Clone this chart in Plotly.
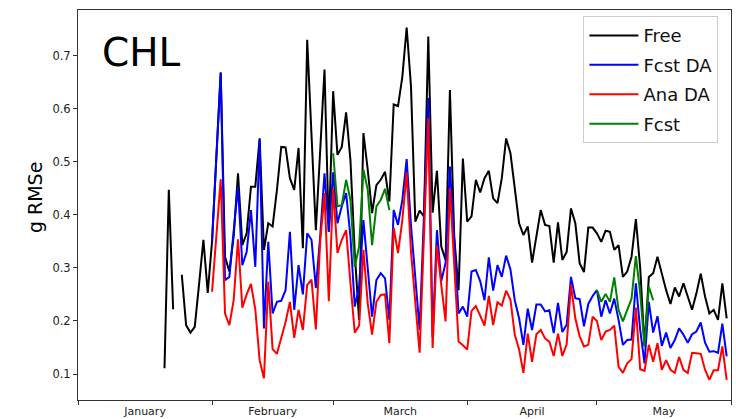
import pandas as pd
import plotly.graph_objects as go

# ---- data (daily values) ----
free_start = "2017-01-21"
free_vals = [
    0.111, 0.447, 0.222, None, 0.287, 0.192, 0.178, 0.189, 0.27, 0.353, 0.253,
    0.35, 0.51, 0.668, 0.321, 0.293, 0.36, 0.478, 0.343, 0.365, 0.453,
    0.453, 0.544, 0.334, 0.384, 0.378, 0.447, 0.528, 0.527, 0.469, 0.447,
    0.526, 0.337, 0.730, 0.55, 0.371, 0.52, 0.674, 0.368, 0.633, 0.513,
    0.528, 0.593, 0.503, 0.328, 0.202, 0.554, 0.485, 0.403, 0.456, 0.466,
    0.481, 0.425, 0.608, 0.605, 0.660, 0.753, 0.642, 0.387, 0.408, 0.397,
    0.736, 0.404, 0.483, 0.340, 0.315, 0.635, 0.359, 0.258, 0.506, 0.387,
    0.397, 0.466, 0.442, 0.469, 0.483, 0.431, 0.422, 0.469, 0.544, 0.516,
    0.444, 0.384, 0.362, 0.378, 0.310, 0.359, 0.409, 0.381, 0.379, 0.310,
    0.386, 0.315, 0.330, 0.412, 0.384, 0.309, 0.292, 0.376, 0.376, 0.365,
    0.349, 0.370, 0.368, 0.334, 0.343, 0.283, 0.293, 0.321, 0.392, 0.30,
    0.152, 0.283, 0.290, 0.321, 0.287, 0.258, 0.232, 0.263, 0.246, 0.271,
    0.246, 0.221, 0.252, 0.289, 0.246, 0.214, 0.221, 0.202, 0.271, 0.205,
]

da_start = "2017-02-01"
fcst_da_vals = [
    0.35, 0.51, 0.668, 0.277, 0.283, 0.37, 0.453, 0.305, 0.330, 0.409,
    0.302, 0.541, 0.186, 0.349, 0.214, 0.236, 0.238, 0.258, 0.368, 0.221,
    0.305, 0.25, 0.365, 0.353, 0.262, 0.359, 0.478, 0.368, 0.48, 0.384,
    0.416, 0.441, 0.359, 0.227, 0.265, 0.390, 0.296, 0.208, 0.277, 0.290,
    0.280, 0.202, 0.409, 0.381, 0.428, 0.505, 0.38, 0.28, 0.183, 0.40,
    0.620, 0.17, 0.371, 0.275, 0.309, 0.491, 0.35, 0.214, 0.227, 0.208,
    0.293, 0.296, 0.275, 0.239, 0.320, 0.257, 0.305, 0.283, 0.323, 0.297,
    0.239, 0.205, 0.155, 0.223, 0.183, 0.231, 0.231, 0.218, 0.22, 0.177,
    0.234, 0.179, 0.193, 0.283, 0.243, 0.241, 0.190, 0.232, 0.247, 0.258,
    0.208, 0.239, 0.214, 0.242, 0.202, 0.155, 0.164, 0.165, 0.271, 0.183,
    0.120, 0.236, 0.178, 0.209, 0.153, 0.178, 0.149, 0.164, 0.186, 0.174,
    0.159, 0.175, 0.180, 0.197, 0.159, 0.142, 0.143, 0.140, 0.195, 0.133,
]
ana_da_vals = [
    0.255, 0.36, 0.467, 0.214, 0.192, 0.239, 0.354, 0.225, 0.250, 0.270,
    0.222, 0.126, 0.092, 0.274, 0.147, 0.138, 0.166, 0.198, 0.236, 0.168,
    0.221, 0.183, 0.268, 0.278, 0.184, 0.349, 0.441, 0.237, 0.450, 0.328,
    0.353, 0.371, 0.271, 0.178, 0.191, 0.334, 0.233, 0.174, 0.236, 0.249,
    0.250, 0.158, 0.376, 0.328, 0.390, 0.480, 0.33, 0.23, 0.14, 0.36,
    0.582, 0.149, 0.342, 0.268, 0.199, 0.450, 0.31, 0.161, 0.154, 0.146,
    0.219, 0.228, 0.210, 0.191, 0.247, 0.192, 0.235, 0.229, 0.257, 0.240,
    0.174, 0.146, 0.102, 0.176, 0.123, 0.175, 0.183, 0.167, 0.161, 0.134,
    0.176, 0.134, 0.156, 0.268, 0.205, 0.171, 0.152, 0.155, 0.208, 0.200,
    0.164, 0.180, 0.183, 0.191, 0.114, 0.102, 0.120, 0.128, 0.225, 0.109,
    0.106, 0.155, 0.123, 0.158, 0.108, 0.126, 0.108, 0.102, 0.132, 0.108,
    0.102, 0.140, 0.139, 0.138, 0.108, 0.089, 0.107, 0.107, 0.152, 0.089,
]

fcst_mar_start = "2017-03-01"
fcst_mar_vals = [0.516, 0.416, 0.418, 0.466, 0.428, 0.302, 0.340, 0.485,
                 0.447, 0.343, 0.416, 0.428, 0.449, 0.409]
fcst_may_start = "2017-05-01"
fcst_may_vals = [0.258, 0.236, 0.251, 0.236, 0.282, 0.221, 0.199, 0.219,
                 0.242, 0.322, 0.252, 0.153, 0.265, 0.239]

free_dates = pd.date_range(free_start, periods=len(free_vals), freq="D")
da_dates = pd.date_range(da_start, periods=len(fcst_da_vals), freq="D")
mar_dates = pd.date_range(fcst_mar_start, periods=len(fcst_mar_vals), freq="D")
may_dates = pd.date_range(fcst_may_start, periods=len(fcst_may_vals), freq="D")

# green forecast: two segments joined by a gap
fc_x = list(mar_dates) + [None] + list(may_dates)
fc_y = fcst_mar_vals + [None] + fcst_may_vals

FONT = "DejaVu Sans"
LW = 2

fig = go.Figure()
fig.add_trace(go.Scatter(x=free_dates, y=free_vals, mode="lines", name="Free",
                         legendgroup="a",
                         line=dict(color="black", width=LW), connectgaps=False))
fig.add_trace(go.Scatter(x=da_dates, y=fcst_da_vals, mode="lines", name="Fcst DA",
                         legendgroup="b",
                         line=dict(color="#0000ff", width=LW)))
fig.add_trace(go.Scatter(x=da_dates, y=ana_da_vals, mode="lines", name="Ana DA",
                         legendgroup="c",
                         line=dict(color="#ff0000", width=LW)))
fig.add_trace(go.Scatter(x=fc_x, y=fc_y, mode="lines", name="Fcst",
                         legendgroup="d",
                         line=dict(color="#008000", width=LW), connectgaps=False))

fig.update_layout(
    width=736, height=419,
    margin=dict(l=78, r=5, t=10, b=19),
    paper_bgcolor="white", plot_bgcolor="white",
    font=dict(family=FONT, color="#222"),
    showlegend=True,
    legend=dict(x=0.774, y=0.984, xanchor="left", yanchor="top",
                bgcolor="white", bordercolor="#cccccc", borderwidth=1,
                font=dict(size=18, family=FONT, color="#111"),
                itemwidth=49, tracegroupgap=3, traceorder="grouped"),
    xaxis=dict(type="date", range=["2017-01-01", "2017-06-01"],
               dtick="M1", tick0="2017-01-01", ticklabelmode="period",
               tickformat="%B", ticks="outside", ticklen=4, tickcolor="#333",
               ticklabelstandoff=-3,
               showline=True, mirror=True, linecolor="#333", linewidth=1,
               showgrid=False, zeroline=False, automargin=False,
               tickfont=dict(size=11, family=FONT, color="#222")),
    yaxis=dict(range=[0.051, 0.786], dtick=0.1, tick0=0.1, tickformat=".1f",
               ticks="outside", ticklen=4, tickcolor="#333",
               showline=True, mirror=True, linecolor="#333", linewidth=1,
               showgrid=False, zeroline=False, automargin=False,
               tickfont=dict(size=11.5, family=FONT, color="#222")),
    annotations=[
        dict(text="CHL", xref="paper", yref="paper", x=0.034, y=0.891,
             xanchor="left", yanchor="middle", showarrow=False,
             font=dict(size=39, family=FONT, color="black")),
        dict(text="g RMSe", xref="paper", yref="paper", x=-0.066, y=0.52,
             xanchor="center", yanchor="middle", textangle=-90, showarrow=False,
             font=dict(size=19, family=FONT, color="black")),
    ],
)

fig.write_html("out.html")
